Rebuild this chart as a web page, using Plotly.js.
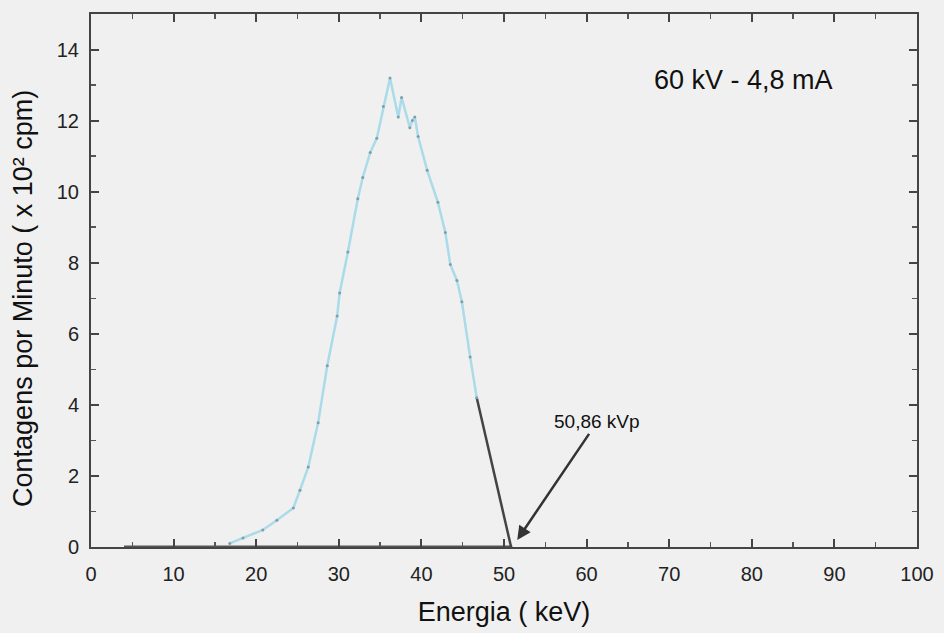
<!DOCTYPE html>
<html><head><meta charset="utf-8">
<script src="https://cdn.plot.ly/plotly-3.0.1.min.js"></script>
<style>html,body{margin:0;padding:0;background:#f0f0f0;}</style>
</head><body>
<div id="chart" style="width:944px;height:633px;"></div>
<script>
// Spectrum (keV vs counts x10^2 cpm)
const energy = [16.8, 18.4, 20.8, 22.5, 24.5, 25.3, 26.3, 27.5, 28.6, 29.8, 30.1, 31.1, 32.3, 32.9, 33.8, 34.6, 35.4, 36.2, 37.2, 37.6, 38.6, 38.9, 39.2, 39.6, 40.7, 42.0, 42.9, 43.5, 44.3, 44.9, 45.9, 46.7];
const counts = [0.1, 0.25, 0.48, 0.75, 1.1, 1.6, 2.25, 3.5, 5.1, 6.5, 7.15, 8.3, 9.8, 10.4, 11.1, 11.5, 12.4, 13.2, 12.1, 12.65, 11.8, 12.0, 12.1, 11.55, 10.6, 9.7, 8.85, 7.95, 7.5, 6.9, 5.35, 4.2];
// Linear extrapolation to the endpoint energy
const fitX = [46.7, 50.86];
const fitY = [4.2, 0];
// Zero-count baseline
const baseX = [4, 51];
const baseY = [0, 0];
const xTicks = [0, 10, 20, 30, 40, 50, 60, 70, 80, 90, 100];
const yTicks = [0, 2, 4, 6, 8, 10, 12, 14];

const FONT = 'Liberation Sans, Arial, sans-serif';

const traces = [
  {x: baseX, y: baseY, mode: 'lines', line: {color: '#555', width: 3}, hoverinfo: 'skip'},
  {x: fitX, y: fitY, mode: 'lines', line: {color: '#444', width: 2.5}},
  {x: energy, y: counts, mode: 'lines+markers', line: {color: '#aadbe9', width: 2.5},
   marker: {size: 3, color: '#7f9fae'}}
];

const axisCommon = {
  showline: true, mirror: 'ticks', linecolor: '#444', linewidth: 2,
  ticks: 'inside', ticklen: 8, tickwidth: 2, tickcolor: '#444',
  showgrid: false, zeroline: false, ticklabelstandoff: 8,
  minor: {ticks: 'inside', ticklen: 5, tickwidth: 1.5, tickcolor: '#555'}
};

const layout = {
  width: 944, height: 633,
  paper_bgcolor: '#f0f0f0', plot_bgcolor: '#f0f0f0',
  margin: {l: 91, r: 27, t: 14, b: 86},
  showlegend: false,
  font: {family: FONT, color: '#111'},
  xaxis: Object.assign({}, axisCommon, {
    range: [0, 100], tickvals: xTicks, ticktext: xTicks.map(String),
    minor: Object.assign({}, axisCommon.minor, {dtick: 5}),
    tickfont: {family: FONT, size: 20, color: '#222'},
    title: {text: 'Energia ( keV)', font: {family: FONT, size: 27, color: '#111'}, standoff: 18}
  }),
  yaxis: Object.assign({}, axisCommon, {
    range: [0, 15], tickvals: yTicks, ticktext: yTicks.map(String),
    minor: Object.assign({}, axisCommon.minor, {dtick: 1}),
    tickfont: {family: FONT, size: 20, color: '#222'},
    ticklabelstandoff: 6
  }),
  annotations: [
    {x: -0.0825, y: 0.467, xref: 'paper', yref: 'paper', xanchor: 'center', yanchor: 'middle',
     text: 'Contagens por Minuto ( x 10² cpm)',
     textangle: -90, showarrow: false, font: {family: FONT, size: 27, color: '#111'}},
    {x: 0.79, y: 0.876, xref: 'paper', yref: 'paper', xanchor: 'center', yanchor: 'middle',
     text: '60 kV - 4,8 mA', showarrow: false,
     font: {family: FONT, size: 27, color: '#111'}},
    {x: 51.6, y: 0.2, xref: 'x', yref: 'y', text: '50,86 kVp', showarrow: true,
     ax: 80, ay: -118, arrowhead: 2, arrowsize: 1.1, arrowwidth: 2.5, arrowcolor: '#333',
     font: {family: FONT, size: 19, color: '#111'}}
  ]
};

Plotly.newPlot('chart', traces, layout, {displayModeBar: false, staticPlot: true});
</script>
</body></html>
